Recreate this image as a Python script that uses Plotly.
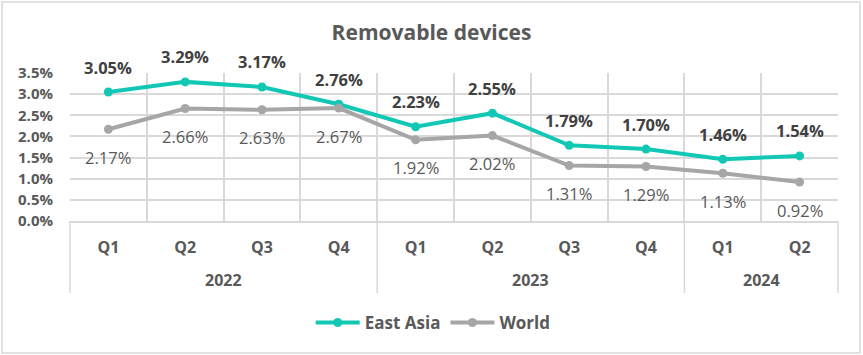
import plotly.graph_objects as go

years = ["2022", "2022", "2022", "2022", "2023", "2023", "2023", "2023", "2024", "2024"]
quarters = ["Q1", "Q2", "Q3", "Q4", "Q1", "Q2", "Q3", "Q4", "Q1", "Q2"]
east_asia = [3.05, 3.29, 3.17, 2.76, 2.23, 2.55, 1.79, 1.70, 1.46, 1.54]
world = [2.17, 2.66, 2.63, 2.67, 1.92, 2.02, 1.31, 1.29, 1.13, 0.92]

TEAL = "#12C8B4"
GRAY = "#A6A6A6"
TXT = "#595959"
DARK = "#404040"
GRID = "#D9D9D9"
FONT = "Open Sans"

W, H = 863, 355
ML, MR, MT, MB = 70, 25, 73, 134
PW, PH = W - ML - MR, H - MT - MB

ea = [v / 100 for v in east_asia]
wd = [v / 100 for v in world]
cats = [f"{q} {y}" for q, y in zip(quarters, years)]
n = len(cats)

fig = go.Figure()
fig.add_trace(go.Scatter(x=cats, y=ea, name="East Asia", mode="lines+markers",
                         line=dict(color=TEAL, width=4), marker=dict(size=9, color=TEAL)))
fig.add_trace(go.Scatter(x=cats, y=wd, name="World", mode="lines+markers",
                         line=dict(color=GRAY, width=4), marker=dict(size=9, color=GRAY)))

annotations = []
for c, v in zip(cats, ea):
    annotations.append(dict(x=c, y=v, xref="x", yref="y", text=f"{v*100:.2f}%", showarrow=False,
                            yshift=25, font=dict(family=FONT, size=16.5, color=DARK, weight="bold")))
for c, v in zip(cats, wd):
    annotations.append(dict(x=c, y=v, xref="x", yref="y", text=f"{v*100:.2f}%", showarrow=False,
                            yshift=-28, font=dict(family=FONT, size=16.5, color=TXT)))

# year group labels and dividers
groups = []
for i, y in enumerate(years):
    if not groups or groups[-1][0] != y:
        groups.append([y, i, i])
    else:
        groups[-1][2] = i
shapes = []
bounds = sorted({g[1] for g in groups} | {n})
for g in groups:
    annotations.append(dict(x=(g[1] + g[2]) / 2, y=-(280 - (MT + PH)) / PH, xref="x", yref="paper",
                            text=g[0], showarrow=False, yanchor="middle",
                            font=dict(family=FONT, size=16, color=TXT, weight="bold")))
for b in bounds:
    shapes.append(dict(type="line", xref="x domain", yref="paper", x0=b / n, x1=b / n,
                       y0=0, y1=-(293 - (MT + PH)) / PH, line=dict(color=GRID, width=1.5)))
# chart border
shapes.append(dict(type="rect", xref="paper", yref="paper",
                   x0=(2 - ML) / PW, x1=(860 - ML) / PW,
                   y0=((MT + PH) - 353) / PH, y1=((MT + PH) - 2) / PH,
                   line=dict(color=GRID, width=1.5), layer="below"))

fig.update_layout(
    width=W, height=H,
    margin=dict(l=ML, r=MR, t=MT, b=MB),
    paper_bgcolor="white", plot_bgcolor="white",
    title=dict(text="<b>Removable devices</b>", x=0.5, xref="container", xanchor="center",
               y=1 - 33 / H, yref="container", yanchor="middle",
               font=dict(family=FONT, size=21, color=TXT)),
    font=dict(family=FONT, color=TXT),
    showlegend=True,
    legend=dict(orientation="h", x=0.502, xref="container", xanchor="center",
                y=1 - 323 / H, yref="container", yanchor="middle",
                font=dict(family=FONT, size=17, color=TXT, weight="bold"), itemwidth=44),
    annotations=annotations,
    shapes=shapes,
)

fig.update_yaxes(range=[0, 0.035], dtick=0.005, tickformat=".1%", showgrid=True, gridcolor=GRID,
                 gridwidth=1.5, zeroline=False, showline=False, automargin=False,
                 ticklabelstandoff=16,
                 tickfont=dict(family=FONT, size=15, color=TXT, weight="bold"))
fig.update_xaxes(type="category", categoryorder="array", categoryarray=cats,
                 tickvals=cats, ticktext=quarters, tickson="boundaries", ticks="",
                 showgrid=True, gridcolor=GRID, gridwidth=1.5,
                 showline=True, linecolor=GRID, linewidth=1.5, automargin=False,
                 range=[-0.5, n - 0.5], ticklabelstandoff=11,
                 tickfont=dict(family=FONT, size=16, color=TXT, weight="bold"))

fig.write_html("out.html", config={"displayModeBar": False},
               post_script="document.body.style.margin='0';")
